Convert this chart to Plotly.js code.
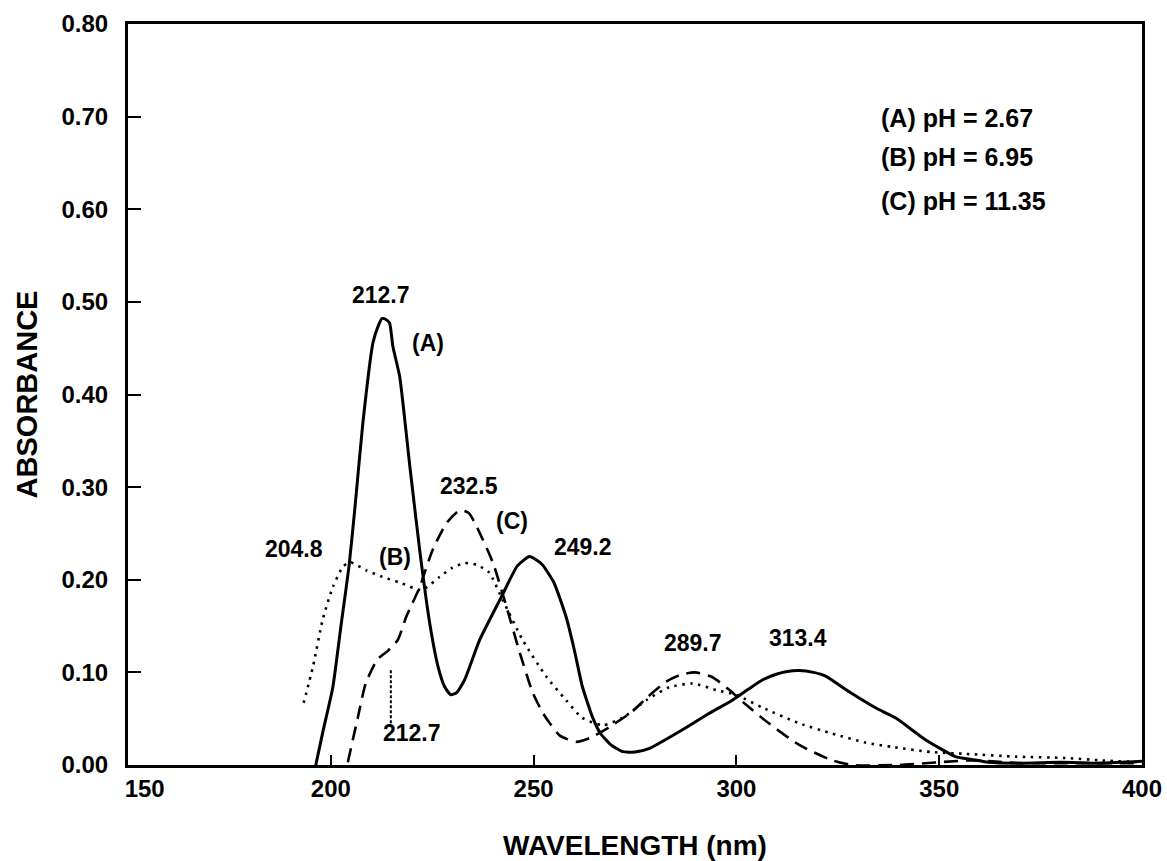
<!DOCTYPE html>
<html>
<head>
<meta charset="utf-8">
<script src="https://cdn.plot.ly/plotly-3.0.1.min.js"></script>
<style>html,body{margin:0;padding:0;background:#fff;}#chart{width:1167px;height:861px;}</style>
</head>
<body>
<div id="chart"></div>
<script>
// Curve (A) pH = 2.67 (solid)
const xA = [196.3, 198, 200.5, 202.5, 204.5, 206, 207.9, 210.4, 211.6, 212.6, 213.6, 214.5, 215.3, 217, 219.5, 222, 224.5, 226.5, 228, 229.5, 231, 233, 236.7, 242, 246, 249, 252, 255, 258, 260, 262, 264.5, 266.5, 269, 272, 275, 278.6, 286.7, 293, 299, 303, 306.5, 309.8, 312.5, 315.5, 319, 322, 327.8, 334.4, 339.3, 346.7, 354, 358, 362, 370, 380, 390, 400];
const yA = [0, 0.035, 0.084, 0.15, 0.215, 0.28, 0.369, 0.456, 0.473, 0.482, 0.481, 0.477, 0.452, 0.419, 0.322, 0.229, 0.15, 0.105, 0.085, 0.076, 0.078, 0.092, 0.135, 0.181, 0.215, 0.225, 0.217, 0.197, 0.16, 0.125, 0.085, 0.052, 0.034, 0.022, 0.0144, 0.014, 0.018, 0.038, 0.055, 0.07, 0.082, 0.092, 0.098, 0.101, 0.102, 0.1, 0.096, 0.079, 0.0615, 0.0507, 0.027, 0.009, 0.006, 0.003, 0.002, 0.003, 0.002, 0.004];

// Curve (B) pH = 6.95 (dotted)
const xB = [193.3, 195.6, 198, 200.5, 203, 204.7, 208.8, 212.8, 217, 222.4, 226.8, 230, 233, 236, 239, 242.4, 247.3, 253.2, 258, 262, 267, 272, 277.8, 283.5, 289.2, 295, 300, 306.4, 315.5, 323.6, 332, 338.4, 348, 356.6, 369, 381, 390, 400];
const yB = [0.067, 0.106, 0.157, 0.192, 0.214, 0.219, 0.21, 0.203, 0.197, 0.189, 0.203, 0.213, 0.218, 0.216, 0.208, 0.178, 0.135, 0.095, 0.070, 0.051, 0.043, 0.051, 0.070, 0.084, 0.088, 0.081, 0.0756, 0.062, 0.045, 0.034, 0.024, 0.0195, 0.014, 0.012, 0.009, 0.0076, 0.005, 0.003];

// Curve (C) pH = 11.35 (dashed)
const xC = [204.2, 206.7, 208.6, 211.5, 214, 216.5, 218.6, 221.9, 225.1, 228.5, 231.8, 234, 236, 240, 243.3, 246.6, 249.8, 252.3, 254, 256.4, 260.5, 263.8, 268.7, 274.4, 278, 282.7, 286, 289.7, 294, 298.3, 302.4, 308, 315.5, 323.6, 328.6, 340, 358, 370, 385, 400];
const yC = [0.003, 0.052, 0.088, 0.114, 0.123, 0.135, 0.16, 0.192, 0.232, 0.261, 0.275, 0.272, 0.257, 0.218, 0.171, 0.121, 0.078, 0.056, 0.045, 0.032, 0.025, 0.029, 0.041, 0.058, 0.073, 0.09, 0.097, 0.1, 0.095, 0.081, 0.065, 0.045, 0.0216, 0.005, 0.0, 0.0, 0.005, 0.002, 0.002, 0.002];

// Shoulder marker of curve (C)
const markX = [214.8, 214.8];
const markY = [0.045, 0.103];

// Axis ticks
const xTicks = [150, 200, 250, 300, 350, 400];
const xTickText = ['\u00a0\u00a0\u00a0\u00a0\u00a0150', '200', '250', '300', '350', '400'];
const yTicks = [0, 0.1, 0.2, 0.3, 0.4, 0.5, 0.6, 0.7, 0.8];
const yTickText = ['0.00', '0.10', '0.20', '0.30', '0.40', '0.50', '0.60', '0.70', '0.80'];

// Peak labels
const peakText = ['212.7', '(A)', '204.8', '(B)', '232.5', '(C)', '249.2', '289.7', '313.4', '212.7'];
const peakX = [212.3, 223.9, 190.9, 215.8, 234.0, 244.6, 262.1, 289.2, 315.3, 220.0];
const peakY = [0.5076, 0.4557, 0.2333, 0.2246, 0.3013, 0.2635, 0.2354, 0.1317, 0.1371, 0.0346];

// Legend text
const legendText = ['(A) pH = 2.67', '(B) pH = 6.95', '(C) pH = 11.35'];
const legendY = [0.6987, 0.6566, 0.6091];

const FONT = '"Liberation Sans", Arial, Helvetica, sans-serif';

const traces = [
  {x: xA, y: yA, mode: 'lines', line: {color: '#000', width: 3, shape: 'spline', smoothing: 0.5}, name: '(A)'},
  {x: xB, y: yB, mode: 'lines', line: {color: '#000', width: 2.6, dash: '2.5px,5.5px', shape: 'spline', smoothing: 0.6}, name: '(B)'},
  {x: xC, y: yC, mode: 'lines', line: {color: '#000', width: 2.6, dash: '14px,8px', shape: 'spline', smoothing: 0.6}, name: '(C)'},
  {x: markX, y: markY, mode: 'lines', line: {color: '#000', width: 2, dash: '3px,2px'}, name: 'mark'}
];

const annotations = [];
peakText.forEach((t, i) => {
  annotations.push({x: peakX[i], y: peakY[i], xref: 'x', yref: 'y', text: '<b>' + t + '</b>', showarrow: false,
    font: {family: FONT, size: 23, color: '#000'}, xanchor: 'center', yanchor: 'middle'});
});
legendText.forEach((t, i) => {
  annotations.push({x: 335.2, y: legendY[i], xref: 'x', yref: 'y', text: '<b>' + t + '</b>', showarrow: false,
    font: {family: FONT, size: 25, color: '#000'}, xanchor: 'left', yanchor: 'middle'});
});

const layout = {
  width: 1167, height: 861,
  margin: {l: 128, r: 25, t: 24, b: 96},
  paper_bgcolor: '#fff', plot_bgcolor: '#fff',
  showlegend: false,
  font: {family: FONT, color: '#000'},
  xaxis: {
    range: [150, 400], tickvals: xTicks, ticktext: xTickText, ticks: 'inside', ticklen: 10, tickwidth: 2, tickcolor: '#000',
    showline: true, linecolor: '#000', linewidth: 3, mirror: true, showgrid: false, zeroline: false,
    tickfont: {family: FONT, size: 24, color: '#000', weight: 'bold'},
    title: {text: '<b>WAVELENGTH (nm)</b>', font: {family: FONT, size: 28, color: '#000'}, standoff: 35},
    automargin: false
  },
  yaxis: {
    range: [0, 0.8], tickvals: yTicks, ticktext: yTickText, ticks: 'inside', ticklen: 13, tickwidth: 2, tickcolor: '#000',
    showline: true, linecolor: '#000', linewidth: 3, mirror: true, showgrid: false, zeroline: false,
    tickfont: {family: FONT, size: 24, color: '#000', weight: 'bold'},
    ticklabelstandoff: 12,
    title: {text: '<b>ABSORBANCE</b>', font: {family: FONT, size: 29, color: '#000'}, standoff: 16},
    automargin: false
  },
  annotations: annotations
};

Plotly.newPlot('chart', traces, layout, {displayModeBar: false, staticPlot: true});
</script>
</body>
</html>
